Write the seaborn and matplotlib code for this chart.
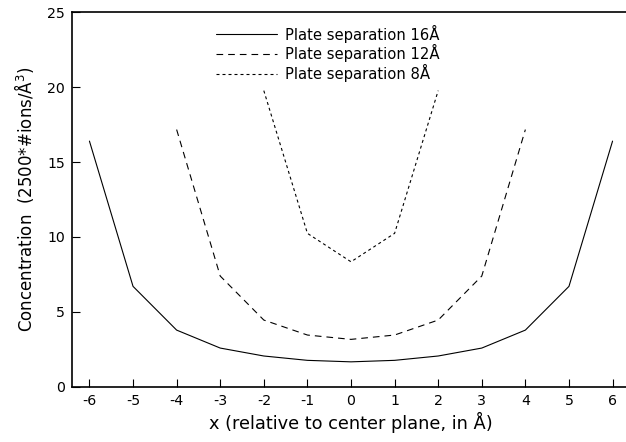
import matplotlib
matplotlib.use("Agg")
import matplotlib.pyplot as plt
import seaborn as sns
import pandas as pd

# Data
x16 = [-6, -5, -4, -3, -2, -1, 0, 1, 2, 3, 4, 5, 6]
y16 = [16.4, 6.70, 3.78, 2.58, 2.05, 1.76, 1.66, 1.76, 2.05, 2.58, 3.78, 6.70, 16.4]
x12 = [-4, -3, -2, -1, 0, 1, 2, 3, 4]
y12 = [17.17, 7.39, 4.45, 3.45, 3.16, 3.45, 4.45, 7.39, 17.17]
x8 = [-2, -1, 0, 1, 2]
y8 = [19.77, 10.24, 8.34, 10.24, 19.77]
labels = ["Plate separation 16Å", "Plate separation 12Å", "Plate separation 8Å"]
xticks = [-6, -5, -4, -3, -2, -1, 0, 1, 2, 3, 4, 5, 6]
yticks = [0, 5, 10, 15, 20, 25]

sns.set_style("ticks")
plt.rcParams['font.family'] = ['DejaVu Sans']
plt.rcParams['mathtext.fontset'] = 'dejavusans'
plt.rcParams['text.color'] = 'black'
plt.rcParams['axes.labelcolor'] = 'black'
plt.rcParams['xtick.color'] = 'black'
plt.rcParams['ytick.color'] = 'black'

fig = plt.figure(figsize=(6.26, 4.42), dpi=100)
ax = fig.add_axes([72/626, (442-386.7)/442, (630-72)/626, (386.7-12.3)/442])

styles = ['-', (0, (6, 4.5)), (0, (2.7, 2.7))]
for xs, ys, lab, ls in zip([x16, x12, x8], [y16, y12, y8], labels, styles):
    df = pd.DataFrame({'x': xs, 'y': ys})
    sns.lineplot(data=df, x='x', y='y', ax=ax, color='black', lw=0.8,
                 linestyle=ls, label=lab)

ax.set_xlim(-6.4, 6.4)
ax.set_ylim(0, 25)
ax.set_xticks(xticks)
ax.set_xticklabels([str(t) for t in xticks])
ax.set_yticks(yticks)
ax.set_yticklabels([str(t) for t in yticks])
ax.tick_params(direction='in', length=6, width=0.8, labelsize=10.2,
               colors='black', labelcolor='black')
ax.tick_params(axis='x', pad=5)
ax.tick_params(axis='y', pad=5)
for s in ax.spines.values():
    s.set_linewidth(1.2)
    s.set_color('black')
ax.spines['right'].set_visible(False)

ax.set_xlabel("x (relative to center plane, in Å)", fontsize=12.8, labelpad=3,
              color='black')
ax.set_ylabel("Concentration  (2500*#ions/Å$^3$)", fontsize=12.0, labelpad=8,
              color='black')

leg = ax.legend(loc='upper left', bbox_to_anchor=(216/626, 1-24.5/442),
                bbox_transform=fig.transFigure, frameon=False, fontsize=10.6,
                handlelength=4.15, handletextpad=0.54, labelspacing=0.13,
                borderpad=0, borderaxespad=0, labelcolor='black')

fig.savefig("out.png", dpi=100)
